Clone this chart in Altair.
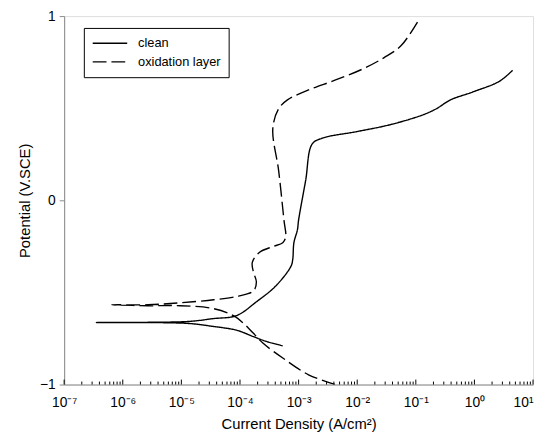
import altair as alt
import pandas as pd

# ---- data (log10 of current density, potential V) ----
clean_logx = [-3.27, -3.56, -3.77, -4.06, -4.45, -4.90, -6.45, -4.90, -4.45, -4.06,
              -3.72, -3.39, -3.13, -3.10, -3.08, -3.02, -3.00, -2.88, -2.77, -2.60,
              -1.99, -1.42, -0.87, -0.65, -0.41, -0.03, 0.43, 0.65]
clean_y = [-0.79, -0.765, -0.74, -0.705, -0.685, -0.668, -0.663, -0.658, -0.642, -0.626,
           -0.551, -0.465, -0.358, -0.321, -0.23, -0.16, -0.107, 0.107, 0.305, 0.337,
           0.374, 0.412, 0.465, 0.497, 0.545, 0.588, 0.647, 0.706]

oxid_logx = [-2.38, -2.83, -3.27, -3.61, -3.77, -3.94, -4.11, -4.45, -5.02, -5.57,
             -6.19, -5.57, -5.02, -4.45, -4.01, -3.77, -3.72, -3.77, -3.79, -3.67,
             -3.44, -3.27, -3.22, -3.25, -3.34, -3.44, -3.34, -3.19, -2.83, -2.38,
             -1.92, -1.54, -1.25, -0.95]
oxid_y = [-1.0, -0.947, -0.856, -0.775, -0.722, -0.668, -0.626, -0.588, -0.572, -0.572,
          -0.567, -0.567, -0.556, -0.540, -0.519, -0.492, -0.444, -0.390, -0.337, -0.283,
          -0.251, -0.230, -0.198, -0.107, 0.160, 0.390, 0.497, 0.545, 0.599, 0.652,
          0.711, 0.775, 0.840, 0.979]

series_names = ["clean", "oxidation layer"]
decades = [-7, -6, -5, -4, -3, -2, -1, 0, 1]
sup_labels = ["10\u207b\u2077", "10\u207b\u2076", "10\u207b\u2075", "10\u207b\u2074",
              "10\u207b\u00b3", "10\u207b\u00b2", "10\u207b\u00b9", "10\u2070", "10\u00b9"]
y_ticks = [-1, 0, 1]

# ---- tables ----
rows = []
for i, (lx, y) in enumerate(zip(clean_logx, clean_y)):
    rows.append({"series": series_names[0], "i": i, "x": 10 ** lx, "y": y})
for i, (lx, y) in enumerate(zip(oxid_logx, oxid_y)):
    rows.append({"series": series_names[1], "i": i, "x": 10 ** lx, "y": y})
df = pd.DataFrame(rows)

tick_rows = []
for d in decades:
    tick_rows.append({"x": 10.0 ** d, "y": -1.0, "y2": -1.0 + 5 / 187})
    if d < 1:
        for m in range(2, 10):
            tick_rows.append({"x": m * 10.0 ** d, "y": -1.0, "y2": -1.0 + 3 / 187})
ticks_df = pd.DataFrame(tick_rows)

expr = "'" + sup_labels[-1] + "'"
for d, lab in reversed(list(zip(decades[:-1], sup_labels[:-1]))):
    expr = f"round(log(datum.value)/LN10) == {d} ? '{lab}' : " + expr

FONT = "Liberation Sans"

xscale = alt.Scale(type="log", domain=[1e-7, 10], nice=False)
yscale = alt.Scale(domain=[-1, 1], nice=False, zero=False)

lines = alt.Chart(df).mark_line(color="black", strokeWidth=1.4, clip=True,
                                interpolate="catmull-rom").encode(
    x=alt.X("x:Q", scale=xscale,
            axis=alt.Axis(title="Current Density (A/cm\u00b2)", values=[10.0 ** d for d in decades],
                          labelExpr=expr, ticks=False, grid=False, labelPadding=11,
                          titlePadding=8, labelFlush=False,
                          labelAlign={"condition": {"test": "datum.value > 5", "value": "right"},
                                      "value": "center"},
                          titleFontWeight="normal", titleFontSize=15, labelFontSize=14)),
    y=alt.Y("y:Q", scale=yscale,
            axis=alt.Axis(title="Potential (V.SCE)", values=y_ticks, grid=False, format=".0f",
                          tickSize=5, labelPadding=4, titlePadding=7,
                          titleFontWeight="normal", titleFontSize=15, labelFontSize=14)),
    strokeDash=alt.StrokeDash("series:N",
                              scale=alt.Scale(domain=series_names, range=[[1, 0], [14, 5]]),
                              legend=alt.Legend(title=None, orient="none", legendX=20, legendY=12,
                                                strokeColor="black", padding=8,
                                                symbolType="stroke", symbolStrokeColor="black",
                                                symbolStrokeWidth=1.4, symbolSize=1225,
                                                clipHeight=15, labelOffset=10,
                                                labelFontSize=13, labelFont=FONT,
                                                labelColor="black", rowPadding=4,
                                                fillColor="white")),
    order="i:Q",
)

tick_marks = alt.Chart(ticks_df).mark_rule(color="black", strokeWidth=1).encode(
    x=alt.X("x:Q", scale=xscale),
    y=alt.Y("y:Q", scale=yscale),
    y2="y2:Q",
)

chart = alt.layer(lines, tick_marks).properties(
    width=476, height=374,
    autosize="none",
    padding={"left": 57, "top": 5, "right": 3, "bottom": 48},
).configure_view(stroke="black", strokeWidth=1).configure_axis(
    labelFont=FONT, titleFont=FONT,
    labelColor="black", titleColor="black",
    domainColor="black", tickColor="black",
).configure(background="white")

chart.save("out.html", embed_options={"renderer": "svg", "actions": False})
